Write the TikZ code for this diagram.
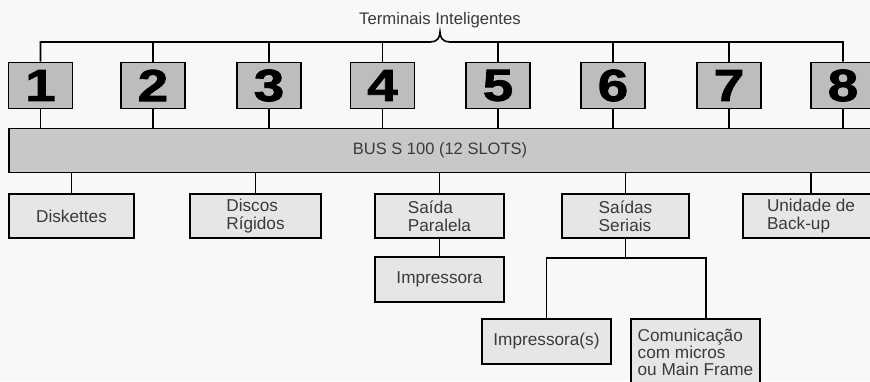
\documentclass[tikz,border=0pt]{standalone}
\usepackage{fontspec}
\setmainfont{Liberation Sans}
\newfontfamily\digitfont[FakeBold=1.8,FakeStretch=1.22]{Liberation Sans Bold}
\definecolor{numgray}{HTML}{BDBDBD}
\definecolor{busgray}{HTML}{C8C8C8}
\definecolor{boxgray}{HTML}{E6E6E6}
\definecolor{txt}{HTML}{3A3A3A}
\definecolor{bg}{HTML}{F8F8F8}
\begin{document}
\begin{tikzpicture}[x=1pt,y=-1pt,line width=1.6pt,
  numbox/.style={draw=black, fill=numgray, minimum width=64pt, minimum height=46pt, inner sep=0pt, font=\digitfont\fontsize{45}{45}\selectfont},
  busbox/.style={draw=black, fill=busgray, minimum height=44pt, inner sep=0pt, text=txt, font=\fontsize{16.5}{17}\selectfont},
  unitbox/.style={draw=black, fill=boxgray, minimum height=44pt, inner sep=0pt, align=left, text=txt, font=\fontsize{17.2}{17.5}\selectfont},
  wire/.style={draw=black, line width=1.6pt}
]
\useasboundingbox (0,0) rectangle (870,381);
\clip (0,0) rectangle (870,381);
\fill[bg] (0,0) rectangle (870,381);

\node[text=txt, font=\fontsize{16.7}{17}\selectfont, anchor=base] (title) at (440,24) {Terminais Inteligentes};

\node[numbox] (n1) at (40.5,85.5) {1};
\node[numbox] (n2) at (153,85.5) {2};
\node[numbox] (n3) at (269,85.5) {3};
\node[numbox] (n4) at (382.5,85.5) {4};
\node[numbox] (n5) at (498,85.5) {5};
\node[numbox] (n6) at (613,85.5) {6};
\node[numbox] (n7) at (729,85.5) {7};
\node[numbox] (n8) at (843,85.5) {8};

\node[busbox, minimum width=862pt] (bus) at (440,150.5) {BUS S 100 (12 SLOTS)};

\node[unitbox, minimum width=125pt] (disk) at (71.5,216) {Diskettes};
\node[unitbox, minimum width=131pt] (disc) at (255.5,216) {Discos\\Rígidos};
\node[unitbox, minimum width=129pt] (par) at (439.5,216) {Saída\\Paralela};
\node[unitbox, minimum width=127pt] (ser) at (625.5,216) {Saídas\\Seriais};
\node[unitbox, minimum width=136pt] (bak) at (811,216) {Unidade de\\Back-up};
\node[unitbox, minimum width=129pt, minimum height=45pt] (imp) at (439.5,279.5) {Impressora};
\node[unitbox, minimum width=129pt, minimum height=45pt] (imps) at (546.5,341.5) {Impressora(s)};
\node[unitbox, minimum width=129pt, minimum height=66pt, font=\fontsize{17.2}{17}\selectfont] (com) at (695.5,352) {Comunicação\\com micros\\ou Main Frame};

\coordinate (tl) at (0,42);
\coordinate (br) at (0,258);

\draw[wire] (n1.north) -- (n1.north |- tl) -- (430,42)
  .. controls (437,42) and (440,38) .. (440,32)
  .. controls (440,38) and (443,42) .. (450,42)
  -- (n8.north |- tl) -- (n8.north);
\foreach \i in {2,...,7} \draw[wire] (n\i.north) -- (n\i.north |- tl);
\foreach \i in {1,...,8} \draw[wire] (n\i.south) -- (n\i.south |- bus.north);
\foreach \n in {disk,disc,par,ser,bak} \draw[wire] (\n.north) -- (\n.north |- bus.south);
\draw[wire] (par.south) -- (imp.north);
\draw[wire] (ser.south) -- (ser.south |- br);
\draw[wire] (imps.north) |- ([xshift=10.5pt]com.north |- br) -- ([xshift=10.5pt]com.north);
\end{tikzpicture}
\end{document}
